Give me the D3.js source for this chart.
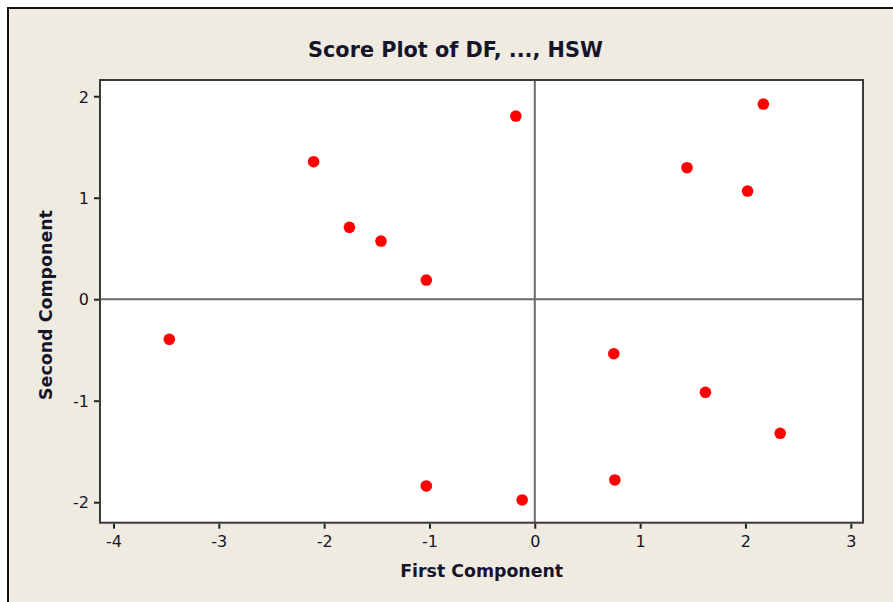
<!DOCTYPE html>
<html>
<head>
<meta charset="utf-8">
<script src="https://cdn.jsdelivr.net/npm/d3@7"></script>
<style>
  html, body { margin: 0; padding: 0; background: #ffffff; }
  svg { display: block; }
</style>
</head>
<body>
<svg id="chart" width="893" height="602"></svg>
<script>
// ---- Data ----
const title = "Score Plot of DF, ..., HSW";
const xLabel = "First Component";
const yLabel = "Second Component";
const firstComponent  = [-3.47, -2.10, -1.76, -1.46, -1.03, -0.18, 1.445, 2.02, 2.17, 0.75, 1.62, 2.33, 0.76, -1.03, -0.12];
const secondComponent = [-0.395, 1.355, 0.708, 0.573, 0.189, 1.805, 1.296, 1.066, 1.923, -0.537, -0.917, -1.321, -1.781, -1.84, -1.978];
const xTicks = [-4, -3, -2, -1, 0, 1, 2, 3];
const yTicks = [-2, -1, 0, 1, 2];

// ---- Layout ----
const W = 893, H = 602;
const plot = { left: 100, top: 80, right: 863, bottom: 522.7 };
const svg = d3.select("#chart");
const textColor = "#14142a";
const font = "'DejaVu Sans', Verdana, sans-serif";

// frame background
svg.append("rect").attr("x", 8).attr("y", 8).attr("width", W).attr("height", H)
  .attr("fill", "#efebe1");
svg.append("path").attr("d", `M8,${H} L8,8 L${W},8`)
  .attr("fill", "none").attr("stroke", "#111").attr("stroke-width", 2);

const x = d3.scaleLinear().domain([-4.128, 3.116]).range([plot.left, plot.right]);
const y = d3.scaleLinear().domain([-2.202, 2.16]).range([plot.bottom, plot.top]);

// plot area
svg.append("rect")
  .attr("x", plot.left).attr("y", plot.top)
  .attr("width", plot.right - plot.left).attr("height", plot.bottom - plot.top)
  .attr("fill", "#ffffff");

// reference lines
svg.append("line")
  .attr("x1", plot.left).attr("x2", plot.right)
  .attr("y1", y(0)).attr("y2", y(0))
  .attr("stroke", "#6a6a6a").attr("stroke-width", 2);
svg.append("line")
  .attr("x1", x(0)).attr("x2", x(0))
  .attr("y1", plot.top).attr("y2", plot.bottom)
  .attr("stroke", "#6a6a6a").attr("stroke-width", 2);

// plot border
svg.append("rect")
  .attr("x", plot.left).attr("y", plot.top)
  .attr("width", plot.right - plot.left).attr("height", plot.bottom - plot.top)
  .attr("fill", "none").attr("stroke", "#3a3a3a").attr("stroke-width", 2);

// axes
const fmt = d => String(d);
const xAxis = svg.append("g")
  .attr("transform", `translate(0,${plot.bottom + 1})`)
  .call(d3.axisBottom(x).tickValues(xTicks).tickSize(5).tickPadding(6).tickFormat(fmt));
const yAxis = svg.append("g")
  .attr("transform", `translate(${plot.left - 1},0)`)
  .call(d3.axisLeft(y).tickValues(yTicks).tickSize(5).tickPadding(5).tickFormat(fmt));
[xAxis, yAxis].forEach(g => {
  g.select(".domain").remove();
  g.selectAll(".tick line").attr("stroke", "#222").attr("stroke-width", 2);
  g.selectAll(".tick text").attr("fill", textColor)
    .style("font-family", font).style("font-size", "16px");
});
yAxis.selectAll(".tick text").attr("dy", "0.36em");
xAxis.selectAll(".tick text").attr("dy", "0.8em");

// points
svg.append("g").selectAll("circle")
  .data(firstComponent.map((v, i) => [v, secondComponent[i]]))
  .join("circle")
  .attr("cx", d => x(d[0])).attr("cy", d => y(d[1]))
  .attr("r", 5.8).attr("fill", "#ff0000");

// helper to fit text width
function fit(sel, target) {
  const w = sel.node().getComputedTextLength();
  const fs = parseFloat(sel.style("font-size"));
  sel.style("font-size", (fs * target / w) + "px");
}

// title
const t = svg.append("text")
  .attr("x", 455.5).attr("y", 57)
  .attr("text-anchor", "middle")
  .attr("fill", textColor)
  .style("font-family", font).style("font-weight", "bold").style("font-size", "17px")
  .text(title);
fit(t, 295);

// x label
const xl = svg.append("text")
  .attr("x", 481.7).attr("y", 577)
  .attr("text-anchor", "middle")
  .attr("fill", textColor)
  .style("font-family", font).style("font-weight", "bold").style("font-size", "15px")
  .text(xLabel);
fit(xl, 163);

// y label
const yl = svg.append("text")
  .attr("transform", `translate(52,305) rotate(-90)`)
  .attr("text-anchor", "middle")
  .attr("fill", textColor)
  .style("font-family", font).style("font-weight", "bold").style("font-size", "15px")
  .text(yLabel);
fit(yl, 190);
</script>
</body>
</html>
